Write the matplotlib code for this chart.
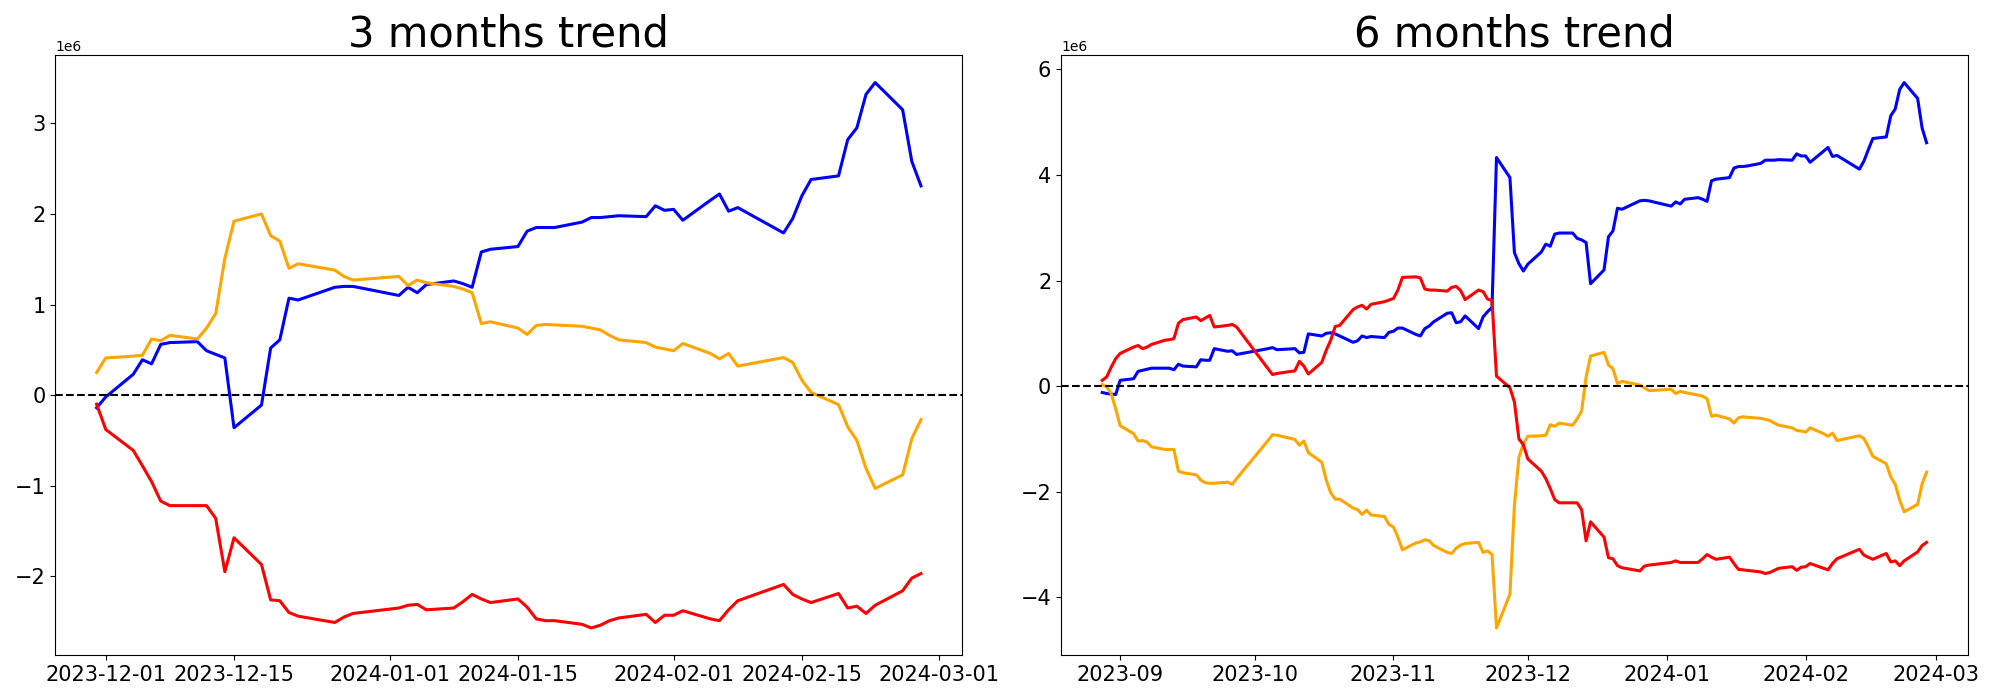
import matplotlib
matplotlib.use("Agg")
import matplotlib.pyplot as plt
import matplotlib.dates as mdates
import numpy as np
import pandas as pd

# 3 months panel (values in millions)
dates_3m = ["2023-11-30",
            "2023-12-01", "2023-12-04", "2023-12-05", "2023-12-06", "2023-12-07", "2023-12-08",
            "2023-12-11", "2023-12-12", "2023-12-13", "2023-12-14", "2023-12-15",
            "2023-12-18", "2023-12-19", "2023-12-20", "2023-12-21", "2023-12-22",
            "2023-12-26", "2023-12-27", "2023-12-28",
            "2024-01-02", "2024-01-03", "2024-01-04", "2024-01-05",
            "2024-01-08", "2024-01-09", "2024-01-10", "2024-01-11", "2024-01-12",
            "2024-01-15", "2024-01-16", "2024-01-17", "2024-01-18", "2024-01-19",
            "2024-01-22", "2024-01-23", "2024-01-24", "2024-01-25", "2024-01-26",
            "2024-01-29", "2024-01-30", "2024-01-31", "2024-02-01", "2024-02-02",
            "2024-02-05", "2024-02-06", "2024-02-07", "2024-02-08",
            "2024-02-13", "2024-02-14", "2024-02-15", "2024-02-16",
            "2024-02-19", "2024-02-20", "2024-02-21", "2024-02-22", "2024-02-23",
            "2024-02-26", "2024-02-27", "2024-02-28"]
blue_3m = [-0.14,
           -0.02, 0.23, 0.39, 0.345, 0.56, 0.58,
           0.59, 0.49, 0.45, 0.41, -0.36,
           -0.11, 0.52, 0.61, 1.07, 1.05,
           1.19, 1.20, 1.20,
           1.10, 1.19, 1.13, 1.22,
           1.26, 1.23, 1.19, 1.58, 1.61,
           1.64, 1.81, 1.85, 1.85, 1.85,
           1.91, 1.96, 1.96, 1.97, 1.98,
           1.97, 2.09, 2.04, 2.05, 1.93,
           2.15, 2.22, 2.03, 2.07,
           1.79, 1.95, 2.20, 2.38,
           2.42, 2.82, 2.95, 3.32, 3.45,
           3.15, 2.58, 2.31]
orange_3m = [0.25,
             0.41, 0.43, 0.44, 0.62, 0.60, 0.66,
             0.62, 0.74, 0.90, 1.51, 1.92,
             2.00, 1.76, 1.70, 1.40, 1.45,
             1.38, 1.31, 1.27,
             1.31, 1.21, 1.27, 1.24,
             1.20, 1.17, 1.13, 0.79, 0.81,
             0.74, 0.67, 0.77, 0.78, 0.775,
             0.76, 0.74, 0.72, 0.66, 0.61,
             0.58, 0.53, 0.51, 0.49, 0.57,
             0.46, 0.40, 0.46, 0.32,
             0.415, 0.36, 0.165, 0.03,
             -0.105, -0.35, -0.50, -0.81, -1.03,
             -0.88, -0.48, -0.27]
red_3m = [-0.10,
          -0.38, -0.61, -0.78, -0.955, -1.17, -1.22,
          -1.22, -1.22, -1.36, -1.95, -1.575,
          -1.87, -2.26, -2.27, -2.40, -2.44,
          -2.51, -2.45, -2.41,
          -2.35, -2.32, -2.31, -2.37,
          -2.35, -2.28, -2.20, -2.25, -2.29,
          -2.25, -2.34, -2.47, -2.49, -2.49,
          -2.53, -2.57, -2.54, -2.49, -2.46,
          -2.42, -2.51, -2.43, -2.43, -2.38,
          -2.47, -2.49, -2.37, -2.27,
          -2.09, -2.20, -2.25, -2.29,
          -2.19, -2.35, -2.33, -2.41, -2.32,
          -2.16, -2.02, -1.97]

# 6 months panel (values in millions)
dates_6m = ["2023-08-28", "2023-08-29", "2023-08-30", "2023-08-31",
            "2023-09-01", "2023-09-04", "2023-09-05", "2023-09-06", "2023-09-07", "2023-09-08",
            "2023-09-11", "2023-09-12", "2023-09-13", "2023-09-14", "2023-09-15",
            "2023-09-18", "2023-09-19", "2023-09-20", "2023-09-21", "2023-09-22",
            "2023-09-25", "2023-09-26", "2023-09-27",
            "2023-10-04", "2023-10-05", "2023-10-06",
            "2023-10-10", "2023-10-11", "2023-10-12", "2023-10-13",
            "2023-10-16", "2023-10-17", "2023-10-18", "2023-10-19", "2023-10-20",
            "2023-10-23", "2023-10-24", "2023-10-25", "2023-10-26", "2023-10-27",
            "2023-10-30", "2023-10-31",
            "2023-11-01", "2023-11-02", "2023-11-03",
            "2023-11-06", "2023-11-07", "2023-11-08", "2023-11-09", "2023-11-10",
            "2023-11-13", "2023-11-14", "2023-11-15", "2023-11-16", "2023-11-17",
            "2023-11-20", "2023-11-21", "2023-11-22", "2023-11-23", "2023-11-24",
            "2023-11-27", "2023-11-28", "2023-11-29", "2023-11-30"] + dates_3m[1:]
blue_6m = [-0.12, -0.14, -0.15, -0.16,
           0.11, 0.14, 0.28, 0.30, 0.32, 0.34,
           0.34, 0.34, 0.31, 0.415, 0.38,
           0.365, 0.50, 0.49, 0.49, 0.71,
           0.66, 0.67, 0.60,
           0.71, 0.73, 0.69,
           0.71, 0.63, 0.64, 0.99,
           0.95, 1.00, 1.01, 0.99, 0.95,
           0.83, 0.86, 0.95, 0.92, 0.94,
           0.92, 1.02,
           1.04, 1.10, 1.10,
           0.98, 0.95, 1.09, 1.14, 1.22,
           1.38, 1.39, 1.20, 1.22, 1.33,
           1.09, 1.31, 1.41, 1.49, 4.33,
           3.95, 2.53, 2.32, 2.18,
           2.31, 2.54, 2.69, 2.65, 2.88, 2.90,
           2.90, 2.80, 2.77, 2.72, 1.94,
           2.20, 2.83, 2.94, 3.37, 3.35,
           3.51, 3.52, 3.51,
           3.41, 3.49, 3.45, 3.54,
           3.57, 3.54, 3.50, 3.89, 3.92,
           3.95, 4.13, 4.16, 4.16, 4.17,
           4.22, 4.28, 4.28, 4.28, 4.29,
           4.28, 4.40, 4.36, 4.36, 4.24,
           4.45, 4.52, 4.35, 4.37,
           4.11, 4.26, 4.48, 4.69,
           4.72, 5.12, 5.25, 5.62, 5.75,
           5.45, 4.89, 4.61]
orange_6m = [0.03, -0.015, -0.14, -0.43,
             -0.75, -0.90, -1.04, -1.03, -1.06, -1.15,
             -1.20, -1.20, -1.20, -1.61, -1.64,
             -1.68, -1.78, -1.83, -1.84, -1.84,
             -1.82, -1.86, -1.75,
             -1.03, -0.92, -0.93,
             -1.01, -1.12, -1.04, -1.26,
             -1.44, -1.78, -2.02, -2.14, -2.14,
             -2.31, -2.34, -2.43, -2.35, -2.44,
             -2.47, -2.62,
             -2.67, -2.86, -3.10,
             -2.97, -2.95, -2.91, -2.93, -3.02,
             -3.15, -3.17, -3.07, -3.01, -2.98,
             -2.96, -3.15, -3.12, -3.19, -4.58,
             -3.94, -2.26, -1.35, -1.09,
             -0.95, -0.94, -0.93, -0.73, -0.76, -0.70,
             -0.74, -0.62, -0.47, 0.17, 0.57,
             0.64, 0.40, 0.33, 0.05, 0.09,
             0.02, -0.03, -0.085,
             -0.06, -0.14, -0.10, -0.12,
             -0.17, -0.19, -0.24, -0.57, -0.55,
             -0.62, -0.70, -0.60, -0.58, -0.59,
             -0.61, -0.63, -0.65, -0.70, -0.74,
             -0.79, -0.84, -0.85, -0.87, -0.79,
             -0.90, -0.95, -0.89, -1.03,
             -0.94, -0.99, -1.15, -1.33,
             -1.47, -1.72, -1.86, -2.16, -2.38,
             -2.24, -1.85, -1.63]
red_6m = [0.11, 0.175, 0.36, 0.52,
          0.62, 0.74, 0.77, 0.71, 0.74, 0.79,
          0.87, 0.88, 0.90, 1.19, 1.26,
          1.31, 1.24, 1.29, 1.34, 1.12,
          1.15, 1.17, 1.12,
          0.33, 0.22, 0.24,
          0.29, 0.47, 0.38, 0.23,
          0.45, 0.68, 0.87, 1.13, 1.15,
          1.45, 1.50, 1.53, 1.46, 1.55,
          1.60, 1.63,
          1.66, 1.82, 2.06,
          2.07, 2.05, 1.84, 1.82, 1.82,
          1.80, 1.87, 1.89, 1.81, 1.64,
          1.82, 1.79, 1.65, 1.62, 0.19,
          -0.03, -0.30, -1.00, -1.11,
          -1.38, -1.61, -1.75, -1.94, -2.15, -2.21,
          -2.21, -2.21, -2.34, -2.93, -2.57,
          -2.86, -3.25, -3.27, -3.40, -3.44,
          -3.50, -3.41, -3.39,
          -3.34, -3.31, -3.34, -3.34,
          -3.34, -3.27, -3.19, -3.24, -3.28,
          -3.24, -3.36, -3.47, -3.48, -3.49,
          -3.52, -3.55, -3.53, -3.49, -3.45,
          -3.42, -3.49, -3.43, -3.42, -3.36,
          -3.45, -3.48, -3.36, -3.27,
          -3.09, -3.20, -3.24, -3.28,
          -3.17, -3.33, -3.31, -3.40, -3.31,
          -3.14, -3.02, -2.96]

panels = [("3 months trend", dates_3m, blue_3m, orange_3m, red_3m),
          ("6 months trend", dates_6m, blue_6m, orange_6m, red_6m)]

fig, axes = plt.subplots(1, 2, figsize=(20, 7), dpi=100)
fig.subplots_adjust(left=0.0277, right=0.9839, top=0.921, bottom=0.064, wspace=0.109)

for ax, (title, d, b, o, r) in zip(axes, panels):
    x = pd.to_datetime(d)
    ax.plot(x, np.array(b) * 1e6, color="blue", linewidth=2.2)
    ax.plot(x, np.array(o) * 1e6, color="orange", linewidth=2.2)
    ax.plot(x, np.array(r) * 1e6, color="red", linewidth=2.2)
    ax.axhline(0, color="black", linestyle="--", linewidth=1.5)
    ax.set_title(title, fontsize=30)
    ax.tick_params(labelsize=15)

axes[0].xaxis.set_major_locator(mdates.MonthLocator(bymonthday=[1, 15]))
axes[0].xaxis.set_major_formatter(mdates.DateFormatter("%Y-%m-%d"))
axes[1].xaxis.set_major_locator(mdates.MonthLocator())
axes[1].xaxis.set_major_formatter(mdates.DateFormatter("%Y-%m"))

plt.savefig("out.png")
